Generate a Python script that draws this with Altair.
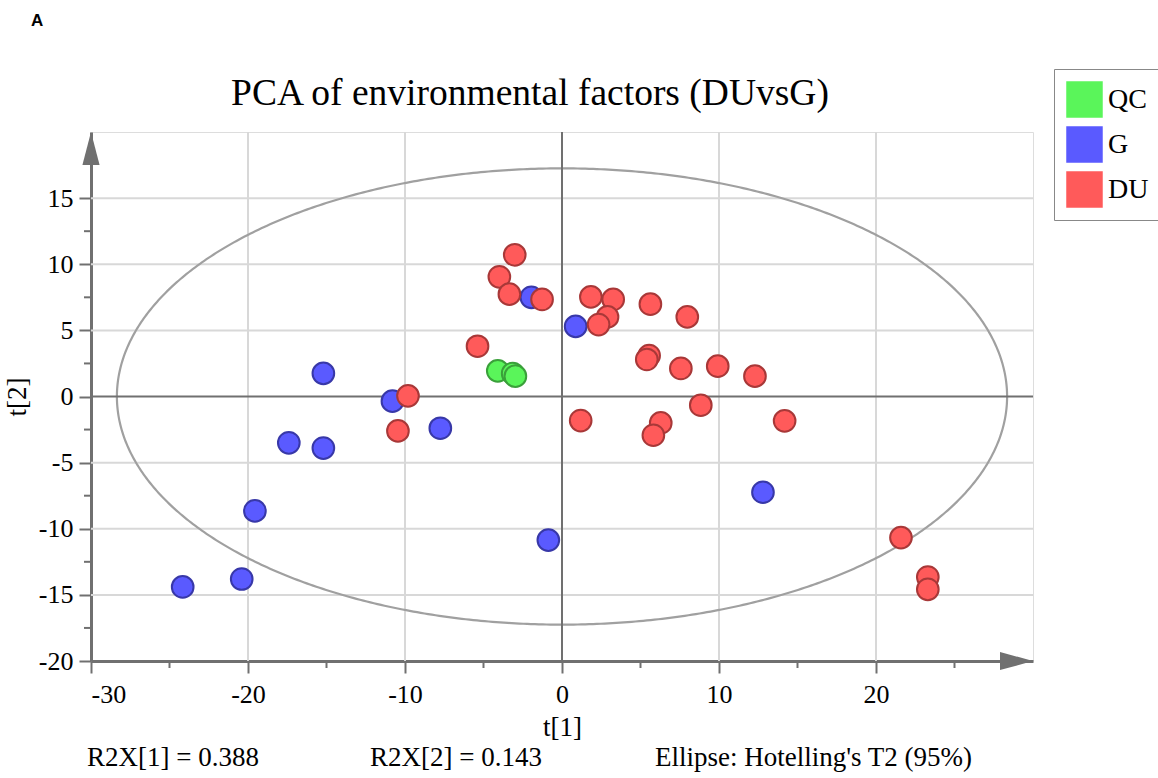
import numpy as np
import pandas as pd
import altair as alt

# ---- data ----
groups = ["QC", "G", "DU"]
g_x = [-15.2, -10.8, -17.4, -15.2, -7.75, -1.95, 0.87, -19.56, -0.87, -24.16, -20.4, 12.8]
g_y = [1.75, -0.35, -3.5, -3.9, -2.4, 7.5, 5.3, -8.65, -10.86, -14.4, -13.8, -7.24]
qc_x = [-4.09, -3.14, -2.97]
qc_y = [1.94, 1.74, 1.54]
du_x = [-3.01, -3.99, -3.35, -1.27, 1.84, 3.26, 2.9, 2.33, 5.63, 7.98, -5.38, 5.55, 5.4,
        7.57, 9.92, 12.29, 8.84, 6.29, 5.82, 14.18, 1.19, -9.81, -10.45, 21.59, 23.3, 23.3]
du_y = [10.71, 9.05, 7.74, 7.34, 7.53, 7.34, 6.02, 5.44, 6.98, 6.02, 3.8, 3.1, 2.8,
        2.12, 2.29, 1.54, -0.66, -2.0, -2.93, -1.84, -1.82, 0.05, -2.6, -10.67, -13.65, -14.58]

x_domain = [-30, 30]
y_domain = [-20, 20]
x_major = [-30, -20, -10, 0, 10, 20]
x_minor = [-25, -15, -5, 5, 15, 25]
y_major = [-20, -15, -10, -5, 0, 5, 10, 15]
y_minor = [-17.5, -12.5, -7.5, -2.5, 2.5, 7.5, 12.5]
x_grid = [-20, -10, 10, 20]
y_grid = [-15, -10, -5, 5, 10, 15]
ellipse_a = 28.35
ellipse_b = 17.25

title_text = "PCA of environmental factors (DUvsG)"
panel_text = "A"
x_title = "t[1]"
y_title = "t[2]"
footer_texts = ["R2X[1] = 0.388", "R2X[2] = 0.143", "Ellipse: Hotelling's T2 (95%)"]

fills = ["#5AF55A", "#5A5AFF", "#FF5A5A"]
strokes = ["#3AA03A", "#3838A8", "#A83838"]

W, H = 942, 529
SERIF = "Liberation Serif"
AXC = "#707070"

pts = pd.DataFrame({
    "x": g_x + qc_x + du_x,
    "y": g_y + qc_y + du_y,
    "group": ["G"] * len(g_x) + ["QC"] * len(qc_x) + ["DU"] * len(du_x),
})
pts["edge"] = pts["group"]
pts["order"] = range(len(pts))

xs = alt.Scale(domain=x_domain, nice=False, zero=False)
ys = alt.Scale(domain=y_domain, nice=False, zero=False)

# ellipse fill (white inside) and outline
t = np.linspace(0, np.pi, 400)
ex = -ellipse_a * np.cos(t)
ell_fill = pd.DataFrame({"x": ex, "y": ellipse_b * np.sin(t), "y2": -ellipse_b * np.sin(t)})
th = np.linspace(0, 2 * np.pi, 721)
ell_line = pd.DataFrame({"x": ellipse_a * np.cos(th), "y": ellipse_b * np.sin(th), "o": range(len(th))})

xaxis = alt.Axis(values=x_major, grid=False, domainColor=AXC, domainWidth=3,
                 tickColor=AXC, tickWidth=2, tickSize=12, labelFont=SERIF, labelFontSize=26,
                 labelColor="black", labelPadding=8, labelExpr="'' + datum.value",
                 title=x_title, titleFont=SERIF, titleFontSize=27, titleFontWeight="normal",
                 titleColor="black", titlePadding=7)
yaxis = alt.Axis(values=y_major, grid=False, domainColor=AXC, domainWidth=3,
                 tickColor=AXC, tickWidth=2, tickSize=12, labelFont=SERIF, labelFontSize=26,
                 labelColor="black", labelPadding=6, labelExpr="'' + datum.value",
                 title=y_title, titleFont=SERIF, titleFontSize=27, titleFontWeight="normal",
                 titleColor="black", titlePadding=7)

base_fill = alt.Chart(ell_fill).mark_area(color="white", opacity=1, orient="vertical").encode(
    x=alt.X("x:Q", scale=xs, axis=xaxis),
    y=alt.Y("y:Q", scale=ys, axis=yaxis),
    y2="y2:Q",
)

grid_v = alt.Chart(pd.DataFrame({"x": x_grid})).mark_rule(color="#d8d8d8", strokeWidth=2).encode(
    x=alt.X("x:Q", scale=xs))
grid_h = alt.Chart(pd.DataFrame({"y": y_grid})).mark_rule(color="#d8d8d8", strokeWidth=2).encode(
    y=alt.Y("y:Q", scale=ys))

outline = alt.Chart(ell_line).mark_line(color="#a0a0a0", strokeWidth=2.2).encode(
    x=alt.X("x:Q", scale=xs), y=alt.Y("y:Q", scale=ys), order="o:Q")

zero_v = alt.Chart(pd.DataFrame({"x": [0]})).mark_rule(color=AXC, strokeWidth=2).encode(
    x=alt.X("x:Q", scale=xs))
zero_h = alt.Chart(pd.DataFrame({"y": [0]})).mark_rule(color=AXC, strokeWidth=2).encode(
    y=alt.Y("y:Q", scale=ys))

minor_x = alt.Chart(pd.DataFrame({"x": x_minor})).mark_rule(color=AXC, strokeWidth=2).encode(
    x=alt.X("x:Q", scale=xs), y=alt.value(H), y2=alt.value(H + 7))
minor_y = alt.Chart(pd.DataFrame({"y": y_minor})).mark_rule(color=AXC, strokeWidth=2).encode(
    y=alt.Y("y:Q", scale=ys), x=alt.value(0), x2=alt.value(-7))

arrow_up = alt.Chart(pd.DataFrame({"x": [x_domain[0]], "y": [y_domain[1]]})).mark_point(
    shape="M0,0L0.52,2L-0.52,2Z", size=1089, filled=True, color=AXC, opacity=1, strokeWidth=0
).encode(x=alt.X("x:Q", scale=xs), y=alt.Y("y:Q", scale=ys))
arrow_right = alt.Chart(pd.DataFrame({"x": [x_domain[1]], "y": [y_domain[0]]})).mark_point(
    shape="M0,0L-2,-0.55L-2,0.55Z", size=1089, filled=True, color=AXC, opacity=1, strokeWidth=0
).encode(x=alt.X("x:Q", scale=xs), y=alt.Y("y:Q", scale=ys))

points = alt.Chart(pts).mark_point(shape="circle", filled=True, size=470, opacity=1, strokeWidth=2).encode(
    x=alt.X("x:Q", scale=xs),
    y=alt.Y("y:Q", scale=ys),
    fill=alt.Fill("group:N", scale=alt.Scale(domain=groups, range=fills),
                  legend=alt.Legend(title=None, orient="none", legendX=963, legendY=-63,
                                    symbolType="square", symbolSize=1332, symbolStrokeWidth=0,
                                    symbolOpacity=1, labelFont=SERIF, labelFontSize=28,
                                    labelColor="black", labelOffset=5, rowPadding=8,
                                    padding=12, strokeColor="#888888", fillColor="white")),
    stroke=alt.Stroke("edge:N", scale=alt.Scale(domain=groups, range=strokes), legend=None),
    order="order:Q",
)

def label(txt, x, y, size=27, font=SERIF, weight="normal", align="left"):
    return alt.Chart(pd.DataFrame({"t": [txt]})).mark_text(
        font=font, fontSize=size, fontWeight=weight, align=align, baseline="alphabetic",
        color="black").encode(text="t:N", x=alt.value(x), y=alt.value(y))

texts = [
    label(title_text, 439, -27, size=37.5, align="center"),
    label(panel_text, -60, -106, size=17, font="Liberation Sans", weight="bold"),
    label(footer_texts[0], -4, 634),
    label(footer_texts[1], 279, 634),
    label(footer_texts[2], 564, 634),
]

chart = alt.layer(base_fill, grid_v, grid_h, outline, zero_v, zero_h, minor_x, minor_y,
                  arrow_up, arrow_right, points, *texts).properties(
    width=W, height=H,
    padding={"left": 91, "top": 132, "right": 125, "bottom": 117},
    autosize=alt.AutoSizeParams(type="none"),
).configure_view(fill="#f4f4f4", strokeWidth=0).configure(background="white")

chart.save("out.html", embed_options={"renderer": "svg", "actions": False})
